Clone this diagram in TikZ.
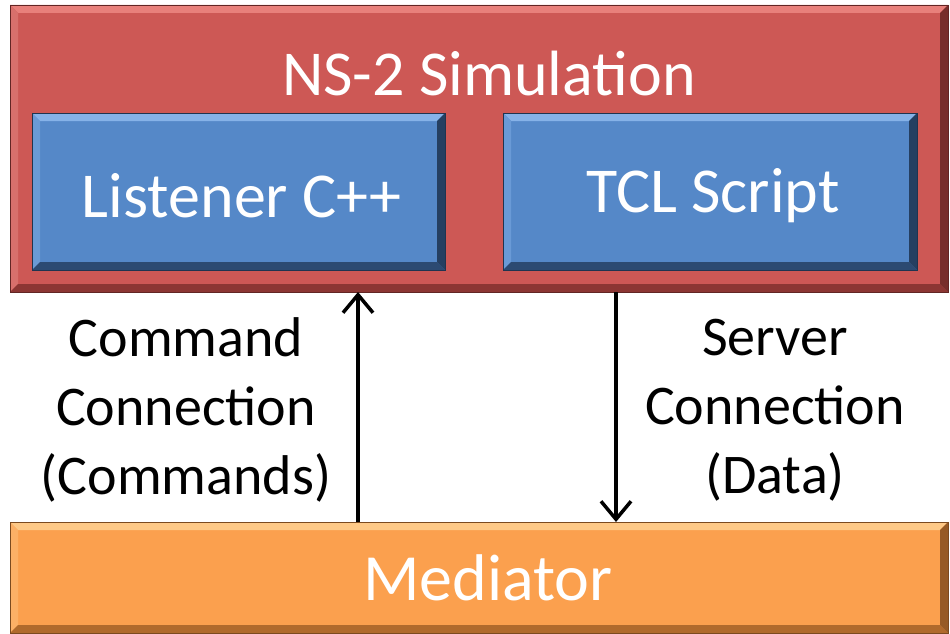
\documentclass[tikz,border=0pt]{standalone}
\usepackage{fontspec}
\setmainfont{Carlito}
\usetikzlibrary{calc,arrows.meta}
\definecolor{redmain}{HTML}{CD5855}
\definecolor{redlight}{HTML}{E8807B}
\definecolor{redside}{HTML}{D8706C}
\definecolor{reddark}{HTML}{8C3633}
\definecolor{bluemain}{HTML}{5588C8}
\definecolor{bluelight}{HTML}{86B2E8}
\definecolor{blueside}{HTML}{6A9AD6}
\definecolor{bluedark}{HTML}{2C4A72}
\definecolor{orgmain}{HTML}{FBA04E}
\definecolor{orglight}{HTML}{FEC987}
\definecolor{orgside}{HTML}{FCB066}
\definecolor{orgdark}{HTML}{B06A2C}
\newcommand\bevelrim[5]{%
  \fill[#2] (#1.north west) -- (#1.north east) -- ($(#1.north east)+(-#5,-#5)$) -- ($(#1.north west)+(#5,-#5)$) -- cycle;
  \fill[#3] (#1.north west) -- ($(#1.north west)+(#5,-#5)$) -- ($(#1.south west)+(#5,#5)$) -- (#1.south west) -- cycle;
  \fill[#4] (#1.south west) -- (#1.south east) -- ($(#1.south east)+(-#5,#5)$) -- ($(#1.south west)+(#5,#5)$) -- cycle;
  \fill[#4!85!black] (#1.north east) -- ($(#1.north east)+(-#5,-#5)$) -- ($(#1.south east)+(-#5,#5)$) -- (#1.south east) -- cycle;
  \draw[#4!70!black, line width=0.8pt] (#1.north west) rectangle (#1.south east);
}
\tikzset{
  boxbase/.style={rectangle, inner sep=0pt, outer sep=0pt, text=white,
    font=\fontsize{64}{72}\selectfont},
  redbox/.style={boxbase, fill=redmain},
  bluebox/.style={boxbase, fill=bluemain},
  orgbox/.style={boxbase, fill=orgmain},
  lbl/.style={align=center, font=\fontsize{56}{69}\selectfont, text=black, inner sep=0pt},
  conn/.style={line width=3.5pt, -{Straight Barb[length=18pt,width=30pt,line width=3.5pt]}}
}
\begin{document}
\begin{tikzpicture}[x=1pt,y=-1pt]
\useasboundingbox (0,0) rectangle (950,634);
\node[redbox, minimum width=938pt, minimum height=287pt] (ns) at (479,148.5) {};
\bevelrim{ns}{redlight}{redside}{reddark}{8pt}
\node[boxbase] (title) at (489,74) {NS-2 Simulation};
\node[bluebox, minimum width=413pt, minimum height=157pt] (listener) at (238.5,191.5) {};
\bevelrim{listener}{bluelight}{blueside}{bluedark}{8pt}
\node[boxbase] (listenertext) at ($(listener.center)+(3pt,-4pt)$) {Listener C++};
\node[bluebox, minimum width=414pt, minimum height=157pt] (tcl) at (710,191.5) {};
\bevelrim{tcl}{bluelight}{blueside}{bluedark}{8pt}
\node[boxbase] (tcltext) at ($(tcl.center)+(3pt,-4pt)$) {TCL Script};
\node[orgbox, minimum width=938pt, minimum height=111pt] (med) at (479,577.5) {};
\bevelrim{med}{orglight}{orgside}{orgdark}{8pt}
\node[boxbase, font=\fontsize{66}{74}\selectfont] (medtext) at (488,578) {Mediator};
\coordinate (cx) at (358,400);
\coordinate (sx) at (616,400);
\draw[conn] (med.north -| cx) -- (ns.south -| cx);
\draw[conn] (ns.south -| sx) -- (med.north -| sx);
\node[lbl] (cmdlbl) at (186,410) {Command\\Connection\\(Commands)};
\node[lbl] (srvlbl) at (775,410) {Server\\Connection\\(Data)};
\end{tikzpicture}
\end{document}
